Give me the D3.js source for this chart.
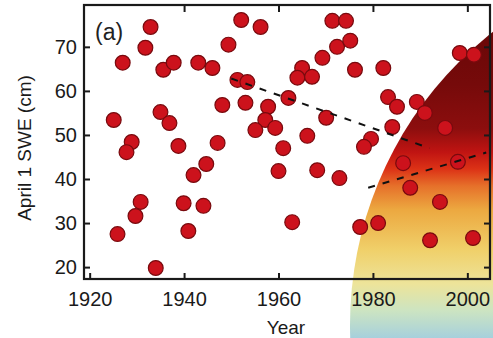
<!DOCTYPE html>
<html>
<head>
<meta charset="utf-8">
<script src="https://cdn.jsdelivr.net/npm/d3@7"></script>
<style>
  body { margin: 0; background: #fff; }
  svg { display: block; font-family: "Liberation Sans", Arial, sans-serif; }
</style>
</head>
<body>
<div class="chart"></div>
<script>
// April 1 SWE by year
const years = [1932.9, 1931.8, 1927.0, 1935.6, 1937.8, 1943.0, 1946.0, 1952.1, 1949.4, 1951.3,
  1953.4, 1948.1, 1953.0, 1935.0, 1936.9, 1925.1, 1928.9, 1927.8, 1938.8, 1947.1,
  1944.7, 1942.0, 1930.8, 1929.7, 1925.9, 1939.9, 1944.1, 1940.9, 1934.0, 1956.2,
  1971.4, 1974.3, 1972.4, 1975.2, 1969.3, 1965.0, 1964.0, 1967.1, 1976.2, 1982.2,
  1957.8, 1962.1, 1957.2, 1955.1, 1959.3, 1966.1, 1961.0, 1970.1, 1983.2, 1985.1,
  1989.3, 1984.1, 1979.6, 1978.1, 1960.0, 1968.2, 1972.9, 1962.9, 1977.3, 1981.1,
  1987.9, 1994.2, 1992.1, 2001.2, 1986.4, 1998.4, 2001.4, 1998.0, 1995.3, 1991.0];
const swe = [74.5, 69.8, 66.4, 64.8, 66.4, 66.4, 65.2, 76.1, 70.5, 62.5,
  62.0, 56.8, 57.3, 55.2, 52.7, 53.4, 48.4, 46.1, 47.5, 48.2,
  43.4, 40.9, 34.8, 31.6, 27.5, 34.5, 33.9, 28.2, 19.8, 74.5,
  75.9, 75.9, 70.0, 71.4, 67.5, 65.2, 63.0, 63.2, 64.8, 65.2,
  56.4, 58.4, 53.4, 51.1, 51.6, 49.8, 47.0, 53.9, 58.6, 56.4,
  57.5, 51.8, 49.1, 47.3, 41.8, 42.0, 40.2, 30.2, 29.1, 30.0,
  38.0, 34.8, 26.1, 26.6, 43.6, 68.6, 68.2, 43.9, 51.6, 55.0];

// dashed trend lines
const trendA = [[1950, 62.8], [1992, 47.0]];
const trendB = [[1979, 38.0], [2004, 46.0]];

const xTicks = [1920, 1940, 1960, 1980, 2000];
const yTicks = [20, 30, 40, 50, 60, 70];

const w = 493, h = 338;

const svg = d3.select(".chart").append("svg")
  .attr("width", w)
  .attr("height", h);

const x = d3.scaleLinear().domain([1918.8, 2004.8]).range([84, 490]);
const y = d3.scaleLinear().domain([17.3, 79.5]).range([279, 5]);

// coloured disk in the lower right corner
const defs = svg.append("defs");
const grad = defs.append("linearGradient")
  .attr("id", "disk")
  .attr("gradientUnits", "userSpaceOnUse")
  .attr("x1", 0).attr("y1", 0).attr("x2", 0).attr("y2", h);
[[0, "#640606"], [0.25, "#760a0a"], [0.38, "#8c0e0e"], [0.45, "#c01412"], [0.5, "#dc3216"],
 [0.55, "#e6702a"], [0.62, "#eca840"], [0.74, "#f0d06a"], [0.84, "#ede49a"],
 [0.92, "#cce4c2"], [1, "#a6d0dc"]].forEach(function (s) {
  grad.append("stop").attr("offset", s[0]).attr("stop-color", s[1]);
});

svg.append("circle")
  .attr("cx", 722)
  .attr("cy", 325)
  .attr("r", 372)
  .attr("fill", "url(#disk)");

// axes, ticks pointing inwards
const axisColor = "#1a1a1a";

const bottomAxis = svg.append("g")
  .attr("transform", "translate(0," + y.range()[0] + ")")
  .call(d3.axisBottom(x).tickValues(xTicks).tickFormat(d3.format("d"))
    .tickSizeInner(-6).tickSizeOuter(0).tickPadding(13));

const leftAxis = svg.append("g")
  .attr("transform", "translate(" + x.range()[0] + ",0)")
  .call(d3.axisLeft(y).tickValues(yTicks).tickSizeInner(-6).tickSizeOuter(0).tickPadding(7));

const topAxis = svg.append("g")
  .attr("transform", "translate(0," + y.range()[1] + ")")
  .call(d3.axisTop(x).tickValues(xTicks.slice(1)).tickFormat("").tickSizeInner(-7).tickSizeOuter(0));

const rightAxis = svg.append("g")
  .attr("transform", "translate(" + x.range()[1] + ",0)")
  .call(d3.axisRight(y).tickValues(yTicks).tickFormat("").tickSizeInner(-6).tickSizeOuter(0));

[bottomAxis, leftAxis, topAxis, rightAxis].forEach(function (g) {
  g.select(".domain").remove();
  g.selectAll("line").attr("stroke", axisColor).attr("stroke-width", 2);
  g.selectAll("text").attr("fill", "#1a1a1a").style("font-size", "20px");
});

svg.append("rect")
  .attr("x", x.range()[0])
  .attr("y", y.range()[1])
  .attr("width", x.range()[1] - x.range()[0])
  .attr("height", y.range()[0] - y.range()[1])
  .attr("fill", "none")
  .attr("stroke", axisColor)
  .attr("stroke-width", 2.2);

// points
svg.append("g").selectAll("circle")
  .data(years)
  .enter()
  .append("circle")
  .attr("cx", function (d) { return x(d); })
  .attr("cy", function (d, i) { return y(swe[i]); })
  .attr("r", 7.4)
  .attr("fill", "#cc121c")
  .attr("stroke", "#780a0e")
  .attr("stroke-width", 1.2);

// trend lines
const line = d3.line()
  .x(function (d) { return x(d[0]); })
  .y(function (d) { return y(d[1]); });

[trendA, trendB].forEach(function (t) {
  svg.append("path")
    .attr("d", line(t))
    .attr("fill", "none")
    .attr("stroke", "#111")
    .attr("stroke-width", 2)
    .attr("stroke-dasharray", "7,8");
});

// labels
svg.append("text")
  .attr("x", 95)
  .attr("y", 40)
  .attr("fill", "#222")
  .style("font-size", "23px")
  .text("(a)");

svg.append("text")
  .attr("x", 286)
  .attr("y", 334)
  .attr("text-anchor", "middle")
  .attr("fill", "#1a1a1a")
  .style("font-size", "19px")
  .text("Year");

svg.append("text")
  .attr("transform", "translate(31,148) rotate(-90)")
  .attr("text-anchor", "middle")
  .attr("fill", "#1a1a1a")
  .style("font-size", "19px")
  .text("April 1 SWE (cm)");
</script>
</body>
</html>
